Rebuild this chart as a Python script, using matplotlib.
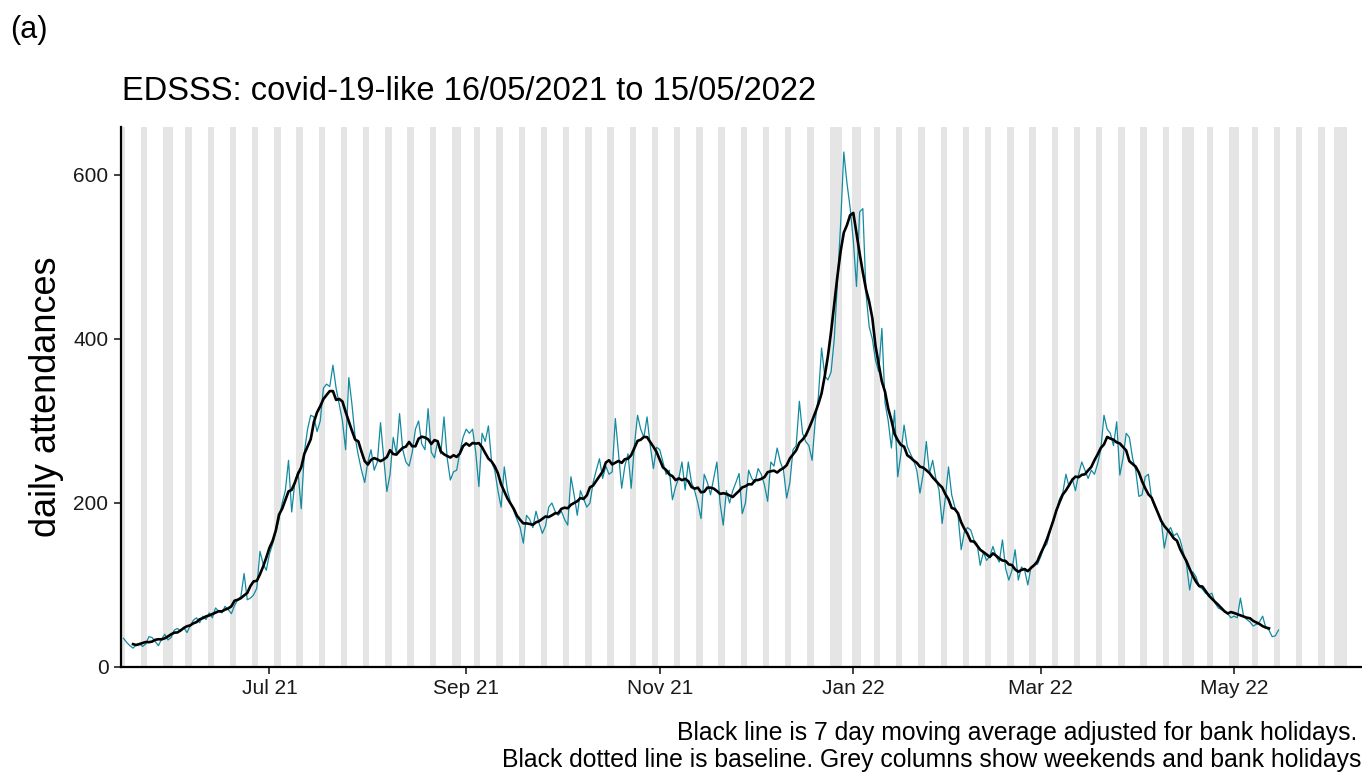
import matplotlib
matplotlib.use("Agg")
import matplotlib.pyplot as plt
import matplotlib.dates as mdates
import pandas as pd

plt.rcParams["font.family"] = ["Liberation Sans", "DejaVu Sans"]

# daily covid-19-like attendances (first value is Sun 16/05/2021)
start_date = "2021-05-16"
daily = [
    35,
    30, 26, 23, 27, 29, 25, 28,        # May 17
    37, 36, 31, 26, 34, 40, 33,        # May 24
    36, 45, 47, 44, 48, 42, 50,        # May 31
    57, 60, 54, 62, 58, 66, 60,        # Jun 7
    72, 68, 66, 74, 70, 65, 75,        # Jun 14
    82, 86, 114, 82, 84, 88, 96,       # Jun 21
    141, 126, 118, 138, 150, 165, 180,  # Jun 28
    200, 215, 252, 189, 225, 238, 193,  # Jul 5
    262, 290, 307, 305, 287, 300, 340,  # Jul 12
    345, 342, 368, 340, 320, 300, 265,  # Jul 19
    353, 320, 280, 258, 240, 225, 250,  # Jul 26
    265, 240, 250, 298, 255, 214, 235,  # Aug 2
    280, 260, 309, 265, 250, 245, 262,  # Aug 9
    290, 300, 272, 265, 315, 262, 255,  # Aug 16
    275, 260, 305, 255, 228, 238, 240,  # Aug 23
    262, 280, 290, 285, 290, 262, 220,  # Aug 30
    285, 275, 294, 250, 240, 215, 195,  # Sep 6
    244, 215, 200, 190, 180, 170, 151,  # Sep 13
    185, 180, 170, 190, 175, 163, 172,  # Sep 20
    195, 200, 190, 185, 190, 180, 173,  # Sep 27
    232, 210, 185, 215, 205, 195, 200,  # Oct 4
    225, 240, 254, 230, 245, 235, 238,  # Oct 11
    303, 260, 218, 245, 260, 218, 270,  # Oct 18
    307, 290, 280, 305, 270, 242, 268,  # Oct 25
    265, 250, 235, 240, 204, 220, 230,  # Nov 1
    250, 216, 250, 225, 215, 200, 181,  # Nov 8
    235, 225, 210, 230, 250, 200, 173,  # Nov 15
    215, 200, 215, 225, 236, 187, 200,  # Nov 22
    240, 230, 225, 242, 235, 222, 202,  # Nov 29
    250, 245, 267, 250, 240, 206, 225,  # Dec 6
    265, 270, 324, 285, 275, 270, 252,  # Dec 13
    300, 330, 389, 355, 350, 360, 400,  # Dec 20
    470, 540, 628, 590, 560, 520, 464,  # Dec 27
    555, 559, 456, 415, 400, 374, 360,  # Jan 3
    413, 322, 300, 267, 313, 232, 260,  # Jan 10
    295, 269, 260, 252, 240, 212, 235,  # Jan 17
    275, 236, 252, 230, 216, 175, 206,  # Jan 24
    244, 210, 195, 185, 143, 165, 170,  # Jan 31
    167, 155, 150, 124, 140, 130, 135,  # Feb 7
    147, 135, 128, 155, 120, 106, 118,  # Feb 14
    143, 106, 122, 118, 100, 122, 125,  # Feb 21
    125, 134, 145, 150, 165, 180, 190,  # Feb 28
    205, 212, 235, 220, 230, 215, 235,  # Mar 7
    250, 240, 230, 240, 235, 248, 265,  # Mar 14
    307, 290, 285, 270, 299, 234, 255,  # Mar 21
    285, 280, 255, 240, 208, 210, 232,  # Mar 28
    235, 205, 195, 189, 180, 145, 165,  # Apr 4
    170, 160, 163, 155, 140, 125, 94,   # Apr 11
    116, 110, 98, 95, 90, 88, 90,       # Apr 18
    78, 72, 70, 68, 65, 60, 62,         # Apr 25
    60, 84, 62, 58, 55, 50, 52,         # May 2
    55, 62, 48, 45, 37, 38, 45,         # May 9
]

bank_holidays = ["2021-05-31", "2021-08-30", "2021-12-27", "2021-12-28",
                 "2022-01-03", "2022-04-15", "2022-04-18", "2022-05-02",
                 "2022-06-02", "2022-06-03"]
shade_from, shade_to = "2021-05-15", "2022-06-05"
x_from, x_to = "2021-05-15 05:00", "2022-06-10"
y_top = 658.5
y_ticks = [0, 200, 400, 600]

dates = pd.date_range(start_date, periods=len(daily), freq="D")
series = pd.Series(daily, index=dates, dtype=float)
moving = series.rolling(7, center=True).mean()

days = pd.date_range(shade_from, shade_to, freq="D")
shaded = days[(days.dayofweek >= 5) | days.isin(pd.to_datetime(bank_holidays))]

W, H = 1362, 774
fig = plt.figure(figsize=(W / 100, H / 100), dpi=100)
ax = fig.add_axes([121 / W, 1 - 667 / H, 1240 / W, 540 / H])

ax.bar(shaded, y_top, width=1, color="#e5e5e5", linewidth=0, zorder=0)
ax.plot(dates, series.values, color="#138aa0", lw=0.9, zorder=2)
ax.plot(dates, moving.values, color="black", lw=1.9, zorder=3)

ax.set_xlim(pd.Timestamp(x_from), pd.Timestamp(x_to))
ax.set_ylim(0, y_top)
ax.set_yticks(y_ticks)
ax.xaxis.set_major_locator(mdates.MonthLocator(bymonth=[1, 3, 5, 7, 9, 11]))
ax.xaxis.set_major_formatter(mdates.DateFormatter("%b %y"))

for side in ["top", "right"]:
    ax.spines[side].set_visible(False)
for side in ["left", "bottom"]:
    ax.spines[side].set_linewidth(1.6)
ax.tick_params(direction="out", length=5, width=1.3, color="#333333",
               labelsize=15, labelcolor="#1a1a1a", pad=4)
ax.set_ylabel("daily attendances", fontsize=26, labelpad=7)

fig.text(10 / W, 1 - 30 / H, "(a)", fontsize=22, va="center", ha="left")
fig.text(122 / W, 1 - 92 / H, "EDSSS: covid-19-like 16/05/2021 to 15/05/2022",
         fontsize=23.5, va="center", ha="left")
fig.text(1357 / W, 1 - 733 / H,
         "Black line is 7 day moving average adjusted for bank holidays.",
         fontsize=17.8, va="center", ha="right")
fig.text(1361 / W, 1 - 760 / H,
         "Black dotted line is baseline. Grey columns show weekends and bank holidays",
         fontsize=17.8, va="center", ha="right")

fig.savefig("out.png", dpi=100)
